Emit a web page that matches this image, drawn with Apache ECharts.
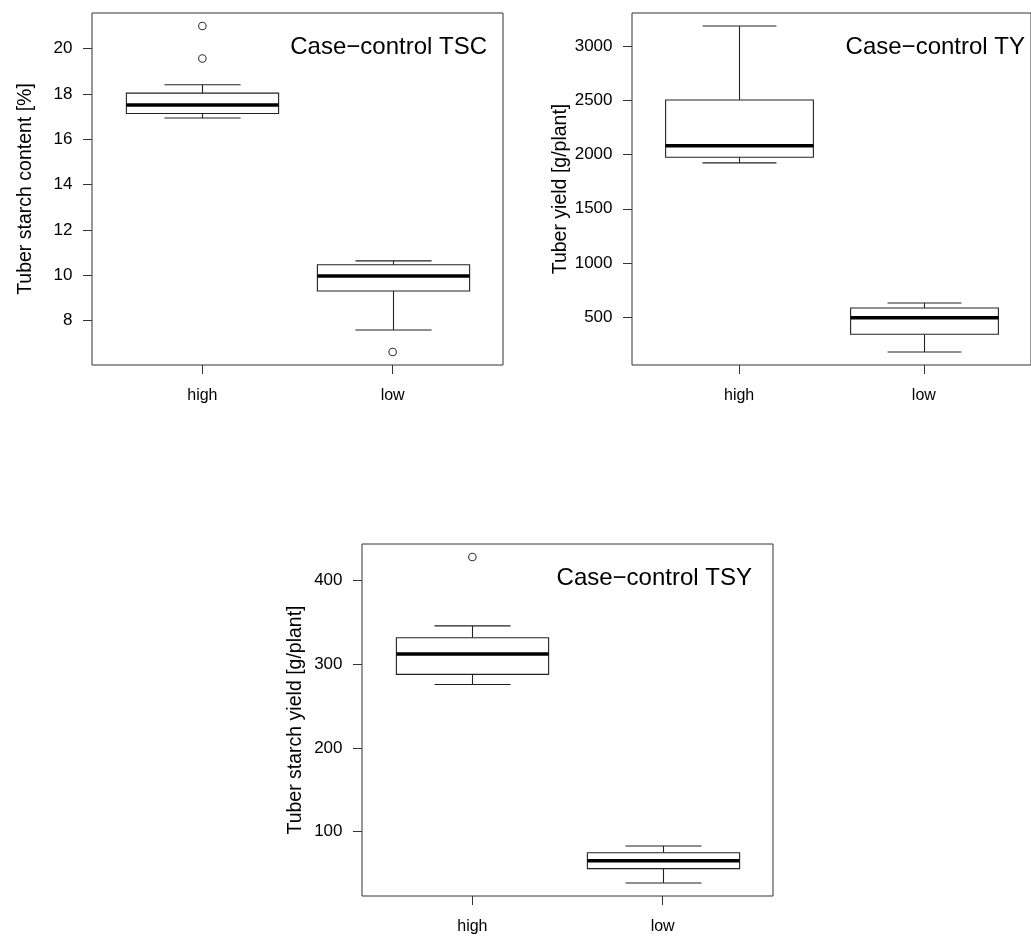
<!DOCTYPE html>
<html>
<head>
<meta charset="utf-8">
<script src="https://cdn.jsdelivr.net/npm/echarts@6/dist/echarts.min.js"></script>
<style>
  html, body { margin: 0; padding: 0; background: #fff; }
  #chart { width: 1031px; height: 938px; }
</style>
</head>
<body>
<div id="chart"></div>
<script>
// ---- data ----
const categories = ['high', 'low'];

// five-number summaries: [lower whisker, Q1, median, Q3, upper whisker]
const tscHigh = [16.94, 17.14, 17.52, 18.04, 18.41];
const tscLow  = [7.59, 9.31, 9.97, 10.47, 10.64];
const tscOutHigh = [21.0, 19.57];
const tscOutLow  = [6.62];

const tyHigh = [1924, 1976, 2081, 2505, 3188];
const tyLow  = [177, 340, 494, 583, 629];
const tyOutHigh = [];
const tyOutLow  = [];

const tsyHigh = [276, 288, 312.4, 331.9, 346];
const tsyLow  = [38.7, 55.8, 65.3, 74.9, 82.9];
const tsyOutHigh = [428.3];
const tsyOutLow  = [];

const tscTicks = [8, 10, 12, 14, 16, 18, 20];
const tyTicks  = [500, 1000, 1500, 2000, 2500, 3000];
const tsyTicks = [100, 200, 300, 400];

const titles = ['Case\u2212control TSC', 'Case\u2212control TY', 'Case\u2212control TSY'];
const yNames = ['Tuber starch content [%]', 'Tuber yield [g/plant]', 'Tuber starch yield [g/plant]'];

// ---- helpers ----
const FONT = 'Liberation Sans, Arial, Helvetica, sans-serif';
const BOX_W = 0.8, CAP_W = 0.4;

function rRange(vals) {           // R default axis extension (4%)
  const lo = Math.min(...vals), hi = Math.max(...vals);
  const d = (hi - lo) * 0.04;
  return [lo - d, hi + d];
}

function boxRender(params, api) {
  const x = api.value(0);
  const pLo = api.coord([x, api.value(1)]);
  const pQ1 = api.coord([x, api.value(2)]);
  const pMd = api.coord([x, api.value(3)]);
  const pQ3 = api.coord([x, api.value(4)]);
  const pHi = api.coord([x, api.value(5)]);
  const bw = api.size([BOX_W, 0])[0];
  const cw = api.size([CAP_W, 0])[0];
  const cx = Math.round(pLo[0]) + 0.5;
  const thin = { stroke: '#222', lineWidth: 1.1, fill: null };
  return {
    type: 'group',
    children: [
      { type: 'line', shape: { x1: cx, y1: pHi[1], x2: cx, y2: pQ3[1] }, style: thin },
      { type: 'line', shape: { x1: cx, y1: pQ1[1], x2: cx, y2: pLo[1] }, style: thin },
      { type: 'line', shape: { x1: cx - cw / 2, y1: pHi[1], x2: cx + cw / 2, y2: pHi[1] }, style: thin },
      { type: 'line', shape: { x1: cx - cw / 2, y1: pLo[1], x2: cx + cw / 2, y2: pLo[1] }, style: thin },
      { type: 'rect', shape: { x: cx - bw / 2, y: pQ3[1], width: bw, height: pQ1[1] - pQ3[1] },
        style: { fill: '#fff', stroke: '#222', lineWidth: 1.1 } },
      { type: 'line', shape: { x1: cx - bw / 2, y1: pMd[1], x2: cx + bw / 2, y2: pMd[1] },
        style: { stroke: '#000', lineWidth: 3.5 } }
    ]
  };
}

const panels = [
  { hi: tscHigh, lo: tscLow, oh: tscOutHigh, ol: tscOutLow, ticks: tscTicks, grid: { left: 92, top: 13, width: 411, height: 352 }, titleRight: 544, titleTop: 35 },
  { hi: tyHigh, lo: tyLow, oh: tyOutHigh, ol: tyOutLow, ticks: tyTicks, grid: { left: 632, top: 13, width: 410, height: 352 }, titleRight: 6, titleTop: 35 },
  { hi: tsyHigh, lo: tsyLow, oh: tsyOutHigh, ol: tsyOutLow, ticks: tsyTicks, grid: { left: 362, top: 544, width: 411, height: 352 }, titleRight: 279, titleTop: 566 }
];

const option = { animation: false, backgroundColor: '#fff', grid: [], xAxis: [], yAxis: [], series: [], title: [] };

panels.forEach((p, i) => {
  option.grid.push(Object.assign({ show: true, borderColor: '#333', borderWidth: 1, backgroundColor: 'transparent' }, p.grid));
  option.xAxis.push({
    type: 'value', gridIndex: i, min: 0.5 - 0.08, max: 2.5 + 0.08,
    axisLine: { show: false }, splitLine: { show: false },
    axisTick: { show: true, customValues: [1, 2], length: 9, lineStyle: { color: '#333', width: 1 } },
    axisLabel: { customValues: [1, 2], formatter: v => categories[Math.round(v) - 1], margin: 22.5,
                 color: '#000', fontSize: 16, fontFamily: FONT }
  });
  const all = p.hi.concat(p.lo, p.oh, p.ol);
  const r = rRange(all);
  option.yAxis.push({
    type: 'value', gridIndex: i, min: r[0], max: r[1],
    axisLine: { show: false }, splitLine: { show: false },
    axisTick: { show: true, customValues: p.ticks, length: 9, lineStyle: { color: '#333', width: 1 } },
    axisLabel: { customValues: p.ticks, formatter: v => String(v), margin: 19.5,
                 color: '#000', fontSize: 17, fontFamily: FONT },
    name: yNames[i], nameLocation: 'middle', nameGap: 56,
    nameTextStyle: { color: '#000', fontSize: 19.5, fontFamily: FONT }
  });
  option.series.push({
    type: 'custom', xAxisIndex: i, yAxisIndex: i, renderItem: boxRender,
    data: [[1].concat(p.hi), [2].concat(p.lo)], z: 2
  });
  const outs = p.oh.map(v => [1, v]).concat(p.ol.map(v => [2, v]));
  if (outs.length) {
    option.series.push({
      type: 'scatter', xAxisIndex: i, yAxisIndex: i, data: outs,
      symbol: 'circle', symbolSize: 7.5,
      itemStyle: { color: '#fff', borderColor: '#000', borderWidth: 1.1 }, z: 3
    });
  }
  option.title.push({
    text: titles[i], right: p.titleRight, top: p.titleTop, padding: 0,
    textStyle: { color: '#000', fontSize: 24, fontWeight: 'normal', fontFamily: FONT }
  });
});

const chart = echarts.init(document.getElementById('chart'), null, { renderer: 'canvas' });
chart.setOption(option);
</script>
</body>
</html>
